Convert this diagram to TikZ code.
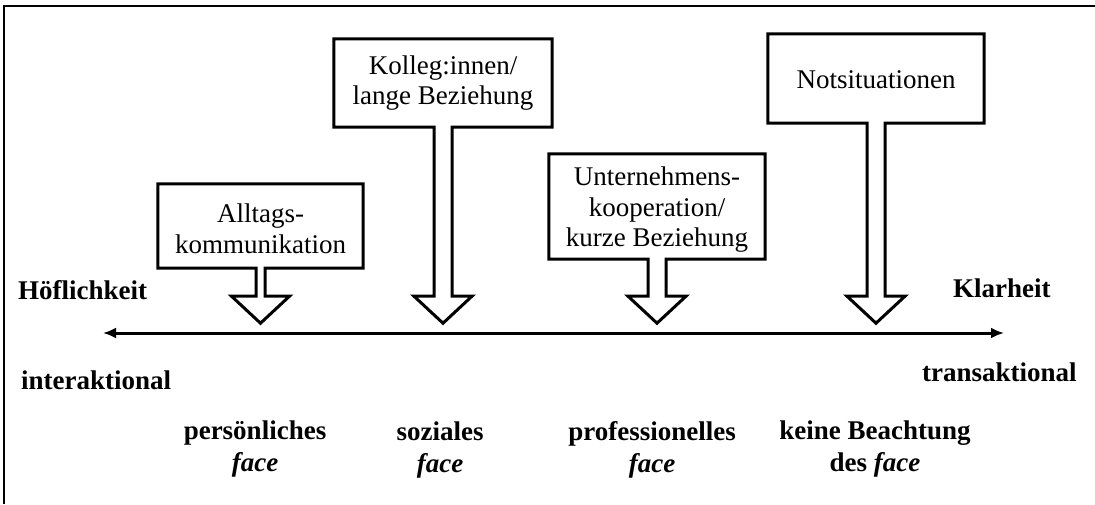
\documentclass[tikz,border=0pt]{standalone}
\usepackage{fontspec}
\setmainfont{Liberation Serif}
\usetikzlibrary{calc,arrows.meta}

% outline of a box with a hollow arrow hanging from its lower edge
% #1 node, #2 half stem width, #3 stem length, #4 head length, #5 half head width
\newcommand\hangarrow[5]{%
  \draw[outline] ($(#1.south)+(-#2,0)$) -- (#1.south west) -- (#1.north west)
    -- (#1.north east) -- (#1.south east) -- ($(#1.south)+(#2,0)$)
    -- ++(0,#3) -- ++(#5-#2,0) -- ++(-#5,#4) -- ++(-#5,-#4) -- ++(#5-#2,0) -- cycle;}

\begin{document}
\begin{tikzpicture}[x=1pt,y=-1pt,
  outline/.style={line width=3pt, line join=miter},
  frame/.style={line width=2pt},
  axisline/.style={line width=3pt, {Latex[length=13pt,width=11pt]}-{Latex[length=13pt,width=11pt]}},
  situation/.style={inner sep=0pt, align=center, font=\fontsize{27}{30.5}\selectfont},
  pole/.style={inner sep=0pt, font=\fontsize{27}{32}\selectfont\bfseries},
  facelabel/.style={inner sep=0pt, align=center, font=\fontsize{27}{32}\selectfont\bfseries}]
  \useasboundingbox (0,0) rectangle (1095,504);

  % frame
  \draw[frame] (4,504) -- (4,6) -- (1095,6);

  % situation boxes
  \node[situation, minimum width=205pt, minimum height=84pt] (alltag) at (260.5,226) {};
  \node[situation] at (260.5,229) {Alltags-\\kommunikation};
  \node[situation, minimum width=218pt, minimum height=88pt] (kolleg) at (443,83) {};
  \node[situation] at (443,83) {Kolleg:innen/\\lange Beziehung};
  \node[situation, minimum width=216pt, minimum height=105pt] (untern) at (657,206.5) {};
  \node[situation] at (657,210) {Unternehmens-\\kooperation/\\kurze Beziehung};
  \node[situation, minimum width=216pt, minimum height=89pt] (not) at (876,78.5) {};
  \node[situation] at (876,80) {Notsituationen};

  \hangarrow{alltag}{4.5}{28}{27}{29}
  \hangarrow{kolleg}{9}{169}{27}{29}
  \hangarrow{untern}{9}{37}{27}{29}
  \hangarrow{not}{9}{173}{27}{29}

  % axis
  \coordinate (axL) at (103,333);
  \coordinate (axR) at (1004,333);
  \draw[axisline] (axL) -- (axR);

  % poles
  \node[pole, anchor=west] (hoef) at (18,290) {Höflichkeit};
  \node[pole, anchor=west] (klar) at (953,288) {Klarheit};
  \node[pole, anchor=west] (inter) at (21,380) {interaktional};
  \node[pole, anchor=west] (trans) at (922,372) {transaktional};

  % face types
  \node[facelabel] (pers) at (255,449) {persönliches\\\textit{face}};
  \node[facelabel] (soz) at (440,450) {soziales\\\textit{face}};
  \node[facelabel] (prof) at (652,450) {professionelles\\\textit{face}};
  \node[facelabel] (keine) at (875,449) {keine Beachtung\\des \textit{face}};
\end{tikzpicture}
\end{document}
